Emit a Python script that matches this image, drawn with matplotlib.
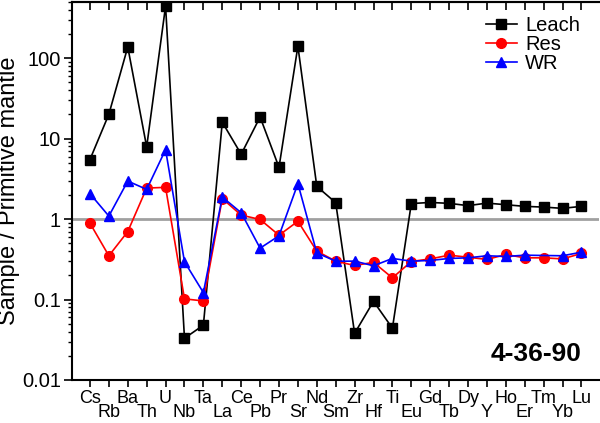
import numpy as np
import matplotlib
matplotlib.use("Agg")
import matplotlib.pyplot as plt
from matplotlib.ticker import LogLocator, FixedLocator, NullFormatter

plt.rcParams['font.family'] = ['Liberation Sans', 'DejaVu Sans']

elements = ["Cs", "Rb", "Ba", "Th", "U", "Nb", "Ta", "La", "Ce", "Pb", "Pr", "Sr", "Nd",
            "Sm", "Zr", "Hf", "Ti", "Eu", "Gd", "Tb", "Dy", "Y", "Ho", "Er", "Tm", "Yb", "Lu"]

leach = [5.5, 20.1, 138, 7.9, 445, 0.033, 0.048, 16, 6.4, 18.6, 4.4, 141, 2.55,
         1.6, 0.038, 0.095, 0.044, 1.56, 1.61, 1.57, 1.47, 1.58, 1.51, 1.44, 1.41, 1.36, 1.44]
res = [0.89, 0.35, 0.70, 2.43, 2.48, 0.102, 0.096, 1.8, 1.12, 0.99, 0.63, 0.94, 0.40,
       0.30, 0.265, 0.29, 0.186, 0.297, 0.32, 0.356, 0.336, 0.315, 0.363, 0.33, 0.33, 0.32, 0.374]
wr = [2.07, 1.09, 2.97, 2.34, 7.3, 0.295, 0.122, 1.88, 1.2, 0.435, 0.62, 2.76, 0.38,
      0.30, 0.30, 0.263, 0.324, 0.30, 0.306, 0.324, 0.33, 0.35, 0.343, 0.356, None, 0.35, 0.388]

sample_name = "4-36-90"

fig = plt.figure(figsize=(6.0, 4.23), dpi=100)
ax = fig.add_axes([0.12, 0.1017, 0.879, 0.8936])

x = np.arange(len(elements))
ax.axhline(1, color='#a0a0a0', lw=2.0, zorder=1)

ax.plot(x, leach, color='black', marker='s', ms=6.5, lw=1.2, label='Leach', zorder=3)
ax.plot(x, res, color='#ff0000', marker='o', ms=7, lw=1.2, label='Res', zorder=4)
wr_arr = np.array([np.nan if v is None else v for v in wr], dtype=float)
ok = ~np.isnan(wr_arr)
ax.plot(x[ok], wr_arr[ok], color='#0000ff', marker='^', ms=7.5, lw=1.2, label='WR', zorder=5)

ax.set_yscale('log')
ax.set_ylim(0.01, 500)
ax.set_xlim(-0.95, 26.95)

ax.yaxis.set_major_locator(FixedLocator([0.01, 0.1, 1, 10, 100]))
ax.set_yticklabels(['0.01', '0.1', '1', '10', '100'])
ax.yaxis.set_minor_locator(LogLocator(base=10, subs=np.arange(2, 10), numticks=20))
ax.yaxis.set_minor_formatter(NullFormatter())
ax.tick_params(axis='y', which='major', direction='out', length=6, width=1.2, labelsize=14.5, pad=2)
ax.tick_params(axis='y', which='minor', direction='out', length=3, width=1.0)

# x ticks: even labels on first row, odd labels on second row
ax.set_xticks(x[::2])
ax.set_xticklabels(elements[::2])
ax.set_xticks(x[1::2], minor=True)
ax.set_xticklabels(elements[1::2], minor=True)
ax.tick_params(axis='x', which='major', direction='out', length=5, width=1.2, labelsize=13, pad=2)
ax.tick_params(axis='x', which='minor', direction='out', length=5, width=1.2, labelsize=13, pad=12)

top = ax.secondary_xaxis('top')
top.set_xticks(x)
top.set_xticklabels([])
top.tick_params(axis='x', direction='in', length=6, width=1.2)
top.spines['top'].set_linewidth(1.5)

for s in ['left', 'bottom', 'top']:
    ax.spines[s].set_linewidth(1.5)
ax.spines['right'].set_visible(False)

ax.set_ylabel('Sample / Primitive mantle', fontsize=17, labelpad=1)

ax.legend(loc='upper right', fontsize=14.5, frameon=False, handlelength=1.55,
          handletextpad=0.4, labelspacing=0.0, borderaxespad=0.3, bbox_to_anchor=(0.99, 1.0))

ax.text(0.967, 0.069, sample_name, transform=ax.transAxes, ha='right', va='center',
        fontsize=19, fontweight='bold')

fig.savefig('out.png', dpi=100)
